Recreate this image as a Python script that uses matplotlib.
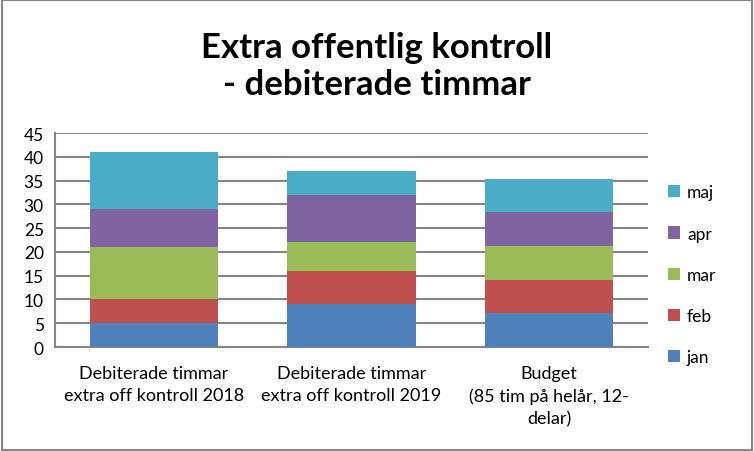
import matplotlib
matplotlib.use("Agg")
import matplotlib.pyplot as plt
from matplotlib.patches import Rectangle
import numpy as np

plt.rcParams['font.family'] = ['Lato', 'DejaVu Sans']

categories = ["Debiterade timmar\nextra off kontroll 2018",
              "Debiterade timmar\nextra off kontroll 2019",
              "Budget\n(85 tim på helår, 12-\ndelar)"]
months = ["jan", "feb", "mar", "apr", "maj"]
values = {
    "jan": [5, 9, 85/12],
    "feb": [5, 7, 85/12],
    "mar": [11, 6, 85/12],
    "apr": [8, 10, 85/12],
    "maj": [12, 5, 85/12],
}
colors = {"jan": "#4F81BD", "feb": "#C0504D", "mar": "#9BBB59",
          "apr": "#8064A2", "maj": "#4BACC6"}
title = "Extra offentlig kontroll\n- debiterade timmar"

fig = plt.figure(figsize=(7.54, 4.52), dpi=100)
ax = fig.add_axes([0.0729, 0.230, 0.7865, 0.4735])

x = np.arange(len(categories))
bottom = np.zeros(len(categories))
handles = []
for m in months:
    v = np.array(values[m])
    h = ax.bar(x, v, bottom=bottom, width=0.65, color=colors[m], label=m, zorder=3)
    handles.append(h)
    bottom += v

ax.set_xlim(-0.5, len(categories) - 0.5)
ax.set_ylim(0, 45)
ax.set_yticks(range(0, 46, 5))
ax.yaxis.grid(True, color="#868686", linewidth=1.5, zorder=0)
ax.set_axisbelow(True)
for s in ["top", "right"]:
    ax.spines[s].set_visible(False)
for s in ["left", "bottom"]:
    ax.spines[s].set_color("#868686")
    ax.spines[s].set_linewidth(1.5)
ax.tick_params(axis="both", length=0, labelsize=12.5, colors="black")
ax.tick_params(axis="y", pad=8)
ax.tick_params(axis="x", pad=13)
ax.set_xticks(x)
ax.set_xticklabels(categories, fontsize=13, linespacing=1.47)

fig.text(0.5, 0.853, title, ha="center", va="center", fontsize=25,
         fontweight="bold", linespacing=1.22)

leg = fig.legend(handles[::-1], months[::-1], loc="center left",
                 bbox_to_anchor=(0.865, 0.39), frameon=False, fontsize=12.5,
                 handlelength=0.7, handleheight=0.7, handletextpad=0.4,
                 labelspacing=1.45)

fig.patches.append(Rectangle((0.002, 0.003), 0.995, 0.994, transform=fig.transFigure,
                             fill=False, edgecolor="#868686", linewidth=1.5))

fig.savefig("out.png", dpi=100)
